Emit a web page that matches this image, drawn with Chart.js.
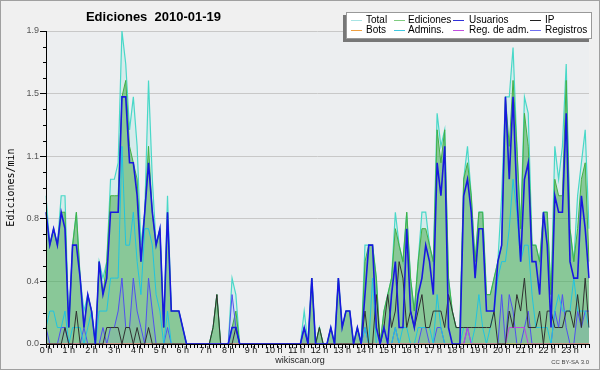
<!DOCTYPE html>
<html><head><meta charset="utf-8">
<script src="https://cdn.jsdelivr.net/npm/chart.js@4/dist/chart.umd.min.js"></script>
<style>html,body{margin:0;padding:0;background:#f0f0f0}canvas{display:block}</style>
</head><body>
<canvas id="c" width="600" height="370"></canvas>
<script>
const titleText = 'Ediciones  2010-01-19';
const yAxisTitle = 'Ediciones/min';
const hourLabels = ['0 h','1 h','2 h','3 h','4 h','5 h','6 h','7 h','8 h','9 h','10 h','11 h','12 h','13 h','14 h','15 h','16 h','17 h','18 h','19 h','20 h','21 h','22 h','23 h'];
const yTickValues = [0, 0.38, 0.76, 1.14, 1.52, 1.9];
const yTickLabels = ['0.0','0.4','0.8','1.1','1.5','1.9'];
const seriesNames = ['Total','Ediciones','Usuarios','IP','Bots','Admins.','Reg. de adm.','Registros'];

const total = [
0.9,0.6,0.7,0.6,0.9,0.9,0.1,0.6,0.8,0.4,0.2,0.3,
0.2,0,0.5,0.4,0.5,1.0,1.0,1.1,1.9,1.7,1.3,1.5,
1.2,0.6,0.8,1.6,1.0,0.6,0.7,0.1,0.9,0.2,0.2,0.2,
0.1,0,0,0,0,0,0,0,0.1,0.3,0,0,
0,0.4,0.3,0,0,0,0,0,0,0,0,0,
0,0,0,0,0,0,0,0,0.2,0,0.4,0,
0.1,0,0,0.1,0,0.4,0.1,0.2,0.2,0,0.1,0,
0.6,0.6,0.6,0.4,0,0.2,0.3,0.4,0.8,0.6,0.5,0.8,
0.4,0.2,0.5,0.8,0.8,0.6,0.5,1.4,1.2,1.3,0.4,0.2,
0.1,0.1,1.0,1.2,0.9,0.5,0.8,0.8,0.3,0.3,0.4,0.5,
0.9,1.5,1.5,1.8,1.2,0.7,1.5,1.4,0.6,0.6,0.5,0.8,
0.8,0.3,1.2,1.0,1.2,1.7,0.7,0.5,0.9,1.1,1.3,0.7];

const ediciones = [
0.8,0.6,0.7,0.6,0.8,0.8,0.1,0.6,0.8,0.4,0.1,0.3,
0.2,0,0.5,0.3,0.5,0.9,0.9,0.9,1.5,1.6,1.2,1.1,
1.0,0.5,0.8,1.2,0.8,0.6,0.7,0.1,0.8,0.2,0.2,0.2,
0.1,0,0,0,0,0,0,0,0.1,0.3,0,0,
0,0.1,0.2,0,0,0,0,0,0,0,0,0,
0,0,0,0,0,0,0,0,0.1,0,0.4,0,
0.1,0,0,0.1,0,0.4,0.1,0.2,0.2,0,0.1,0,
0.5,0.6,0.6,0.4,0,0.2,0.3,0.4,0.7,0.6,0.5,0.8,
0.4,0.2,0.5,0.7,0.7,0.6,0.5,1.3,1.1,1.3,0.4,0.2,
0.1,0.1,1.0,1.1,0.9,0.5,0.8,0.8,0.3,0.3,0.4,0.5,
0.6,1.5,1.2,1.6,1.2,0.7,1.4,1.2,0.6,0.6,0.5,0.8,
0.8,0.3,1.0,0.9,0.9,1.6,0.7,0.5,0.7,1.0,1.1,0.5];

const usuarios = [
0.8,0.6,0.7,0.6,0.8,0.7,0.1,0.6,0.6,0.4,0.1,0.3,
0.2,0,0.5,0.3,0.4,0.8,0.8,0.8,1.5,1.5,1.1,1.1,
0.9,0.5,0.8,1.1,0.8,0.6,0.7,0.1,0.8,0.2,0.2,0.2,
0.1,0,0,0,0,0,0,0,0,0,0,0,
0,0.1,0.1,0,0,0,0,0,0,0,0,0,
0,0,0,0,0,0,0,0,0.1,0,0.4,0,
0,0,0,0.1,0,0.4,0.1,0.2,0.2,0,0.1,0,
0.3,0.6,0.6,0.1,0,0.1,0,0.3,0.5,0.1,0.1,0.7,
0.2,0.1,0.3,0.4,0.6,0.5,0.3,1.1,0.9,1.2,0.1,0,
0,0,0.9,1.0,0.8,0.4,0.7,0.7,0.2,0.2,0.2,0.5,
0.6,1.5,1.0,1.5,0.9,0.5,1.0,1.1,0.5,0.5,0.3,0.8,
0.6,0.1,0.9,0.8,0.8,1.4,0.5,0.4,0.4,0.9,0.7,0.4];

const ip = [
0,0,0,0,0,0.1,0,0,0.2,0,0,0,
0,0,0,0,0.1,0.1,0.1,0.1,0,0.1,0.1,0,
0.1,0,0,0.1,0,0,0,0,0,0,0,0,
0,0,0,0,0,0,0,0,0.1,0.3,0,0,
0,0,0.1,0,0,0,0,0,0,0,0,0,
0,0,0,0,0,0,0,0,0,0,0,0,
0.1,0,0,0,0,0,0,0,0,0,0,0,
0.2,0,0,0.3,0,0.1,0.3,0.1,0.2,0.5,0.4,0.1,
0.2,0.1,0.2,0.3,0.1,0.1,0.2,0.2,0.2,0.1,0.3,0.2,
0.1,0.1,0.1,0.1,0.1,0.1,0.1,0.1,0.1,0.1,0.2,0,
0,0,0.2,0.1,0.3,0.2,0.4,0.1,0.1,0.1,0.2,0,
0.2,0.2,0.1,0.1,0.1,0.2,0.2,0.1,0.3,0.1,0.4,0.1];

const bots = [
0,0,0,0,0,0,0,0,0,0,0,0, 0,0,0,0,0,0,0,0,0,0,0,0,
0,0,0,0,0,0,0,0,0,0,0,0, 0,0,0,0,0,0,0,0,0,0,0,0,
0,0,0,0,0,0,0,0,0,0,0,0, 0,0,0,0,0,0,0,0,0,0,0,0,
0,0,0,0,0,0,0,0,0,0,0,0, 0,0,0,0,0,0,0,0,0,0,0,0,
0,0,0,0,0,0,0,0,0,0,0,0, 0,0,0,0,0,0,0,0,0,0,0,0,
0,0,0,0,0,0,0,0,0,0,0,0, 0,0,0,0,0,0,0,0,0,0,0,0];

const admins = [
0.1,0.2,0.2,0.1,0.1,0.2,0,0.1,0.1,0.1,0,0.1,
0.2,0,0.2,0.2,0.2,0.4,0.4,0.4,1.2,0.6,0.6,0.8,
0.5,0.3,0.7,0.7,0.6,0.3,0.2,0,0.2,0,0,0,
0,0,0,0,0,0,0,0,0,0,0,0,
0,0.1,0.1,0,0,0,0,0,0,0,0,0,
0,0,0,0,0,0,0,0,0,0,0,0,
0,0,0,0,0,0,0,0,0,0,0,0,
0.1,0,0.4,0,0,0,0,0,0.1,0,0.1,0.1,
0,0,0.1,0.1,0.1,0.1,0,0.3,0.1,0,0,0,
0,0,0.1,0.1,0,0.1,0.3,0.1,0,0.1,0.2,0.4,
0.5,0.5,0.7,1.0,0.8,0.5,0.6,0.6,0.3,0.1,0.1,0.1,
0.1,0,0.2,0.3,0.2,0.2,0.2,0.4,0.2,0.2,0.2,0.1];

const regAdm = [
0,0,0,0,0,0,0,0,0,0,0,0, 0,0,0,0,0,0,0,0,0,0,0,0,
0,0,0,0,0,0,0,0,0,0,0,0, 0,0,0,0,0,0,0,0,0,0,0,0,
0,0,0,0,0,0,0,0,0,0,0,0, 0,0,0,0,0,0,0,0,0,0,0,0,
0,0,0,0,0,0,0,0,0,0,0,0, 0,0,0,0,0,0,0,0,0,0,0,0,
0,0,0,0,0,0,0,0,0,0,0,0,
0,0,0,0.1,0,0,0,0,0,0,0,0,
0,0,0.1,0.1,0.1,0.1,0.1,0,0,0,0,0,
0,0,0,0,0,0,0,0,0,0,0,0];

const registros = [
0.1,0,0,0,0.1,0.1,0,0,0,0,0.1,0,
0,0,0,0.1,0,0.1,0.1,0.2,0.4,0.1,0.1,0.4,
0.2,0.1,0,0.4,0.2,0,0,0,0.1,0,0,0,
0,0,0,0,0,0,0,0,0,0,0,0,
0,0.3,0.1,0,0,0,0,0,0,0,0,0,
0,0,0,0,0,0,0,0,0.1,0,0,0,
0,0,0,0,0,0,0,0,0,0,0,0,
0.1,0,0,0,0,0,0,0,0.1,0,0,0,
0,0,0,0.1,0.1,0,0,0.1,0.1,0,0,0,
0,0,0,0.1,0,0,0,0,0,0,0,0,
0.3,0,0.3,0.2,0,0,0.1,0.2,0,0,0,0,
0,0,0.2,0.1,0.3,0.1,0,0,0.2,0.1,0.2,0.2];

const seriesColors = {
  'Total':'#48d8c8','Ediciones':'#44b044','Usuarios':'#1818e0','IP':'#303030',
  'Bots':'#f0a040','Admins.':'#20c4e0','Reg. de adm.':'#c040e0','Registros':'#5050f0'
};
const legendColors = {
  'Total':'#a8e4e4','Ediciones':'#80cc80','Usuarios':'#3030d8','IP':'#202020',
  'Bots':'#f0a040','Admins.':'#40c8e0','Reg. de adm.':'#c050e0','Registros':'#7070f0'
};

// bin labels: hour label then five blanks (10-minute bins)
const binLabels = [];
hourLabels.forEach(h => { binLabels.push(h); for (let k = 1; k < 6; k++) binLabels.push(''); });

const ds = (name, data, extra) => Object.assign({
  label: name, data: data, borderColor: seriesColors[name], borderWidth: 1,
  fill: false, pointRadius: 0, tension: 0
}, extra || {});

const datasets = [
  ds('Usuarios', usuarios, {borderWidth: 1.6}),
  ds('IP', ip),
  ds('Bots', bots),
  ds('Reg. de adm.', regAdm),
  ds('Admins.', admins),
  ds('Registros', registros, {fill: 'origin', backgroundColor: 'rgba(80,80,240,0.08)'}),
  ds('Ediciones', ediciones, {fill: 'origin', backgroundColor: 'rgba(60,165,70,0.5)'}),
  ds('Total', total, {borderWidth: 1.2, fill: 'origin', backgroundColor: 'rgba(72,216,200,0.13)'})
];

const framePlugin = {
  id: 'frame',
  beforeDraw(chart) {
    const c = chart.ctx, a = chart.chartArea;
    c.save();
    c.fillStyle = '#f0f0f0'; c.fillRect(0, 0, chart.width, chart.height);
    c.fillStyle = '#eceef0'; c.fillRect(a.left, a.top, a.right - a.left, a.bottom - a.top);
    c.restore();
  },
  afterDatasetsDraw(chart) {
    const c = chart.ctx, a = chart.chartArea, y = chart.scales.y;
    c.save();
    c.strokeStyle = '#000'; c.lineWidth = 1;
    c.beginPath();
    c.moveTo(a.left + 0.5, a.top); c.lineTo(a.left + 0.5, a.bottom + 0.5); c.lineTo(a.right + 1, a.bottom + 0.5);
    for (let k = 0; k < yTickValues.length - 1; k++) {
      for (let m = 1; m < 4; m++) {
        const v = yTickValues[k] + (yTickValues[k + 1] - yTickValues[k]) * m / 4;
        const py = Math.round(y.getPixelForValue(v)) + 0.5;
        c.moveTo(a.left - 3, py); c.lineTo(a.left + 0.5, py);
      }
    }
    c.stroke();
    c.restore();
  },
  afterDraw(chart) {
    const c = chart.ctx;
    c.save();
    // title
    c.fillStyle = '#000';
    c.font = 'bold 13px "Liberation Sans"';
    c.textAlign = 'center'; c.textBaseline = 'alphabetic';
    c.fillText(titleText, 153.5, 21);
    // legend box with shadow
    c.fillStyle = '#777'; c.fillRect(343, 15, 246, 27);
    c.fillStyle = '#fff'; c.fillRect(346, 12, 246, 27);
    c.strokeStyle = '#999'; c.lineWidth = 1; c.strokeRect(346.5, 12.5, 245, 26);
    const colLine = [351, 394, 453, 530], colText = [366, 408, 469, 545], rowY = [20, 30];
    c.font = '10px "Liberation Sans"'; c.textAlign = 'left'; c.textBaseline = 'middle';
    seriesNames.forEach((n, i) => {
      const col = i % 4, row = Math.floor(i / 4);
      c.strokeStyle = legendColors[n]; c.beginPath();
      c.moveTo(colLine[col], rowY[row] + 0.5); c.lineTo(colLine[col] + 11, rowY[row] + 0.5); c.stroke();
      c.fillStyle = '#000'; c.fillText(n, colText[col], rowY[row]);
    });
    // footer
    c.textBaseline = 'alphabetic';
    c.font = '9px "Liberation Sans"'; c.textAlign = 'center'; c.fillStyle = '#222';
    c.fillText('wikiscan.org', 300, 363);
    c.font = '6px "Liberation Sans"'; c.textAlign = 'right'; c.fillStyle = '#444';
    c.fillText('CC BY-SA 3.0', 589, 364);
    // outer border
    c.strokeStyle = '#a0a0a0'; c.lineWidth = 1; c.strokeRect(0.5, 0.5, chart.width - 1, chart.height - 1);
    c.restore();
  }
};

new Chart(document.getElementById('c').getContext('2d'), {
  type: 'line',
  data: { labels: binLabels, datasets: datasets },
  options: {
    responsive: false, animation: false, devicePixelRatio: 1,
    layout: { padding: { top: 31, right: 11, bottom: 0, left: 0 } },
    plugins: { legend: { display: false }, tooltip: { enabled: false }, title: { display: false } },
    elements: { point: { radius: 0 }, line: { tension: 0 } },
    scales: {
      x: {
        type: 'category', offset: false,
        grid: { display: true, drawOnChartArea: false, drawTicks: true, tickLength: 4, tickColor: '#000', color: '#000' },
        border: { display: false },
        ticks: { autoSkip: false, maxRotation: 0, minRotation: 0, padding: -3, color: '#111',
                 font: { family: 'Liberation Sans', size: 9 } },
        afterFit: s => { s.height = 26; }
      },
      y: {
        min: 0, max: 1.9,
        afterBuildTicks: s => { s.ticks = yTickValues.map(v => ({ value: v })); },
        ticks: { callback: (v, i) => yTickLabels[i], padding: 1, color: '#555',
                 font: { family: 'Liberation Sans', size: 9 } },
        grid: { color: '#c8c8c8', tickColor: '#000', tickLength: 6, drawTicks: true },
        border: { display: false },
        title: { display: true, text: yAxisTitle, color: '#000',
                 font: { family: 'DejaVu Sans Mono', size: 10 }, padding: { top: 5, bottom: 0 } },
        afterFit: s => { s.width = 46; }
      }
    }
  },
  plugins: [framePlugin]
});
</script>
</body></html>
